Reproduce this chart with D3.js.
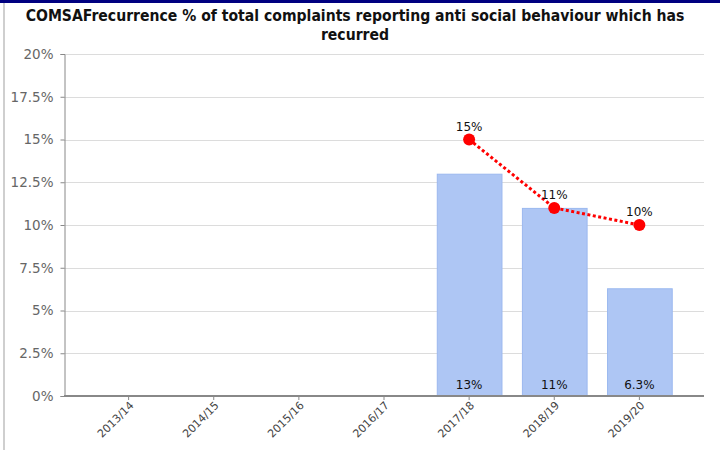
<!DOCTYPE html>
<html><head><meta charset="utf-8">
<script src="https://cdn.jsdelivr.net/npm/d3@7"></script>
<style>html,body{margin:0;padding:0;background:#fff;}svg{display:block;}</style>
</head><body>
<svg id="chart" width="720" height="450"></svg>
<script>
const categories = ["2013/14","2014/15","2015/16","2016/17","2017/18","2018/19","2019/20"];
const barValues = [null,null,null,null,13,11,6.3];
const barLabels = ["","","","","13%","11%","6.3%"];
const lineValues = [null,null,null,null,15,11,10];
const lineLabels = ["","","","","15%","11%","10%"];
const yTicks = [0,2.5,5,7.5,10,12.5,15,17.5,20];
const yTickLabels = ["0%","2.5%","5%","7.5%","10%","12.5%","15%","17.5%","20%"];
const titleLines = ["COMSAFrecurrence % of total complaints reporting anti social behaviour which has","recurred"];

(function(){
const svg = d3.select("#chart");
const pLeft = 64, pRight = 704, pTop = 54, pBottom = 396;

// frame decorations
svg.append("rect").attr("x",0).attr("y",0).attr("width",720).attr("height",3).attr("fill","#000080");
svg.append("rect").attr("x",3).attr("y",3).attr("width",2).attr("height",447).attr("fill","#cfcfcf");

const x = d3.scaleBand().domain(categories).range([pLeft,pRight]).paddingInner(0.24).paddingOuter(0.379);
const y = d3.scaleLinear().domain([0,20]).range([pBottom,pTop]);

// title
svg.append("g").selectAll("text").data(titleLines).join("text")
  .attr("x",355).attr("y",(d,i)=>21+i*19)
  .attr("text-anchor","middle")
  .attr("font-family","DejaVu Sans Condensed, DejaVu Sans, sans-serif")
  .attr("font-weight","bold").attr("font-size",15.6).attr("fill","#111")
  .text(d=>d);

// gridlines
svg.append("g").selectAll("line").data(yTicks.filter(v=>v>0)).join("line")
  .attr("x1",pLeft).attr("x2",pRight)
  .attr("y1",d=>Math.round(y(d))+0.5).attr("y2",d=>Math.round(y(d))+0.5)
  .attr("stroke","#dcdcdc").attr("stroke-width",1);

// y axis
const yAxis = d3.axisLeft(y).tickValues(yTicks).tickFormat((d,i)=>yTickLabels[i]).tickSize(4).tickPadding(7);
const gy = svg.append("g").attr("transform",`translate(${pLeft+0.5},0)`).call(yAxis);
gy.select(".domain").attr("stroke","#888");
gy.selectAll(".tick line").attr("stroke","#888");
gy.selectAll(".tick text").attr("font-family","Tahoma, DejaVu Sans, sans-serif").attr("font-size",13.5).attr("fill","#666");

// bars
const barData = categories.map((c,i)=>({c,v:barValues[i],l:barLabels[i]})).filter(d=>d.v!=null);
svg.append("g").selectAll("rect").data(barData).join("rect")
  .attr("x",d=>x(d.c)+0.5).attr("y",d=>y(d.v)+0.5)
  .attr("width",x.bandwidth()).attr("height",d=>y(0)-y(d.v))
  .attr("fill","#aec6f4").attr("stroke","#9bb8ef").attr("stroke-width",1);
svg.append("g").selectAll("text").data(barData).join("text")
  .attr("x",d=>x(d.c)+x.bandwidth()/2).attr("y",y(0)-7)
  .attr("text-anchor","middle").attr("font-family","Tahoma, DejaVu Sans, sans-serif")
  .attr("font-size",12).attr("fill","#111").text(d=>d.l);

// x axis
const xAxis = d3.axisBottom(x).tickSize(4).tickPadding(6);
const gx = svg.append("g").attr("transform",`translate(0,${pBottom})`).call(xAxis);
gx.select(".domain").attr("stroke","#888").attr("stroke-width",2).attr("d",`M${pLeft},0H${pRight}`);
gx.selectAll(".tick line").attr("stroke","#888");
gx.selectAll(".tick text").attr("font-family","Tahoma, DejaVu Sans, sans-serif").attr("font-size",11).attr("fill","#444")
  .attr("text-anchor","end").attr("dy","0.2em").attr("transform","rotate(-45)")
  .attr("y",9).attr("x",-3);

// line
const lineData = categories.map((c,i)=>({c,v:lineValues[i],l:lineLabels[i]})).filter(d=>d.v!=null);
const line = d3.line().x(d=>x(d.c)+x.bandwidth()/2).y(d=>y(d.v));
svg.append("path").datum(lineData).attr("d",line).attr("fill","none")
  .attr("stroke","#ff0000").attr("stroke-width",3).attr("stroke-dasharray","3,2.5");
svg.append("g").selectAll("circle").data(lineData).join("circle")
  .attr("cx",d=>x(d.c)+x.bandwidth()/2).attr("cy",d=>y(d.v)).attr("r",6)
  .attr("fill","#ff0000");
svg.append("g").selectAll("text").data(lineData).join("text")
  .attr("x",d=>x(d.c)+x.bandwidth()/2).attr("y",d=>y(d.v)-9)
  .attr("text-anchor","middle").attr("font-family","Tahoma, DejaVu Sans, sans-serif")
  .attr("font-size",12).attr("fill","#111").text(d=>d.l);
})();
</script>
</body></html>
